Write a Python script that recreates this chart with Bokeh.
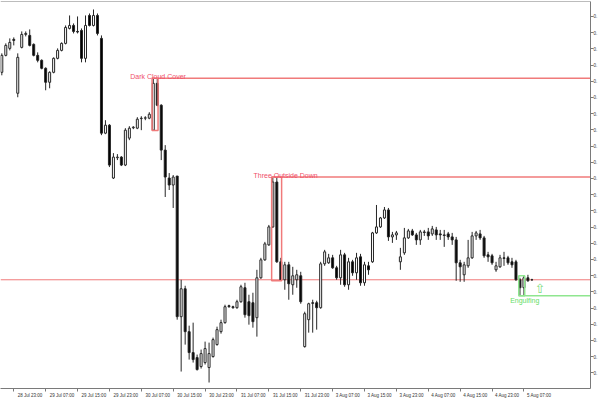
from bokeh.plotting import figure
from bokeh.models import Range1d, LinearAxis, FixedTicker, Label, ColumnDataSource, PrintfTickFormatter, Span
from bokeh.core.properties import value
from bokeh.embed import file_html
from bokeh.resources import INLINE

# ---- data (H1 candles, bar index 0 = 28 Jul 20:00) ----
opens = [0.73640, 0.73725, 0.73760, 0.73805, 0.73535, 0.73765, 0.73830, 0.73825, 0.73780, 0.73725,
         0.73700, 0.73660, 0.73590, 0.73640, 0.73710, 0.73750, 0.73785, 0.73860, 0.73875, 0.73845,
         0.73850, 0.73710, 0.73925, 0.73875, 0.73925, 0.73810, 0.73335, 0.73375, 0.73110, 0.73212,
         0.73215, 0.73175, 0.73310, 0.73362, 0.73360, 0.73408, 0.73410, 0.73410, 0.73350, 0.73585,
         0.73475, 0.73250, 0.73110, 0.73075, 0.73120, 0.72415, 0.72555, 0.72340, 0.72235, 0.72210,
         0.72165, 0.72185, 0.72160, 0.72215, 0.72275, 0.72340, 0.72385, 0.72470, 0.72465, 0.72460,
         0.72490, 0.72560, 0.72490, 0.72485, 0.72410, 0.72610, 0.72700, 0.72775, 0.72865, 0.73090,
         0.72690, 0.72600, 0.72675, 0.72575, 0.72600, 0.72620, 0.72265, 0.72400, 0.72485, 0.72485,
         0.72460, 0.72680, 0.72685, 0.72710, 0.72660, 0.72610, 0.72725, 0.72575, 0.72690, 0.72635,
         0.72715, 0.72585, 0.72670, 0.72690, 0.72835, 0.72865, 0.72910, 0.72950, 0.72815, 0.72825,
         0.72690, 0.72735, 0.72810, 0.72845, 0.72825, 0.72800, 0.72840, 0.72840, 0.72830, 0.72850,
         0.72830, 0.72825, 0.72830, 0.72815, 0.72800, 0.72685, 0.72625, 0.72670, 0.72710, 0.72820,
         0.72830, 0.72810, 0.72725, 0.72720, 0.72650, 0.72665, 0.72710, 0.72710, 0.72690, 0.72690,
         0.72600, 0.72560, 0.72610, 0.72600]
highs = [0.73735, 0.73785, 0.73810, 0.73815, 0.73735, 0.73845, 0.73845, 0.73855, 0.73785, 0.73740,
         0.73705, 0.73665, 0.73645, 0.73715, 0.73760, 0.73790, 0.73875, 0.73925, 0.73885, 0.73920,
         0.73860, 0.73925, 0.73935, 0.73955, 0.73935, 0.73825, 0.73400, 0.73380, 0.73235, 0.73230,
         0.73220, 0.73360, 0.73370, 0.73370, 0.73415, 0.73420, 0.73420, 0.73440, 0.73610, 0.73610,
         0.73480, 0.73275, 0.73135, 0.73125, 0.73120, 0.72600, 0.72570, 0.72370, 0.72385, 0.72225,
         0.72250, 0.72290, 0.72285, 0.72310, 0.72365, 0.72400, 0.72475, 0.72475, 0.72470, 0.72500,
         0.72575, 0.72585, 0.72525, 0.72535, 0.72650, 0.72710, 0.72790, 0.72875, 0.73115, 0.73115,
         0.72710, 0.72690, 0.72690, 0.72665, 0.72650, 0.72640, 0.72440, 0.72485, 0.72500, 0.72495,
         0.72690, 0.72750, 0.72730, 0.72725, 0.72670, 0.72750, 0.72735, 0.72710, 0.72700, 0.72735,
         0.72730, 0.72690, 0.72690, 0.72840, 0.72975, 0.72915, 0.72965, 0.72960, 0.72840, 0.72845,
         0.72760, 0.72860, 0.72855, 0.72855, 0.72835, 0.72850, 0.72850, 0.72860, 0.72870, 0.72865,
         0.72850, 0.72850, 0.72840, 0.72835, 0.72815, 0.72700, 0.72690, 0.72800, 0.72840, 0.72845,
         0.72850, 0.72820, 0.72740, 0.72730, 0.72690, 0.72725, 0.72740, 0.72720, 0.72710, 0.72700,
         0.72610, 0.72620, 0.72625, 0.72605]
lows = [0.73625, 0.73720, 0.73750, 0.73775, 0.73515, 0.73760, 0.73820, 0.73770, 0.73720, 0.73690,
        0.73655, 0.73550, 0.73560, 0.73635, 0.73705, 0.73745, 0.73780, 0.73855, 0.73835, 0.73835,
        0.73690, 0.73690, 0.73870, 0.73870, 0.73825, 0.73325, 0.73330, 0.73165, 0.73105, 0.73200,
        0.73170, 0.73170, 0.73300, 0.73355, 0.73355, 0.73350, 0.73400, 0.73405, 0.73348, 0.73470,
        0.73200, 0.73015, 0.73050, 0.72960, 0.72400, 0.72140, 0.72275, 0.72200, 0.72185, 0.72145,
        0.72155, 0.72175, 0.72085, 0.72210, 0.72270, 0.72330, 0.72380, 0.72460, 0.72455, 0.72455,
        0.72485, 0.72410, 0.72375, 0.72360, 0.72315, 0.72605, 0.72695, 0.72770, 0.72860, 0.72685,
        0.72595, 0.72550, 0.72500, 0.72525, 0.72560, 0.72480, 0.72260, 0.72335, 0.72335, 0.72350,
        0.72455, 0.72670, 0.72680, 0.72655, 0.72600, 0.72575, 0.72565, 0.72550, 0.72620, 0.72600,
        0.72570, 0.72570, 0.72625, 0.72685, 0.72830, 0.72860, 0.72905, 0.72795, 0.72785, 0.72800,
        0.72650, 0.72725, 0.72805, 0.72820, 0.72775, 0.72775, 0.72820, 0.72800, 0.72820, 0.72800,
        0.72800, 0.72765, 0.72800, 0.72775, 0.72595, 0.72590, 0.72590, 0.72660, 0.72705, 0.72800,
        0.72800, 0.72710, 0.72690, 0.72675, 0.72640, 0.72660, 0.72670, 0.72675, 0.72660, 0.72595,
        0.72520, 0.72520, 0.72590, 0.72595]
closes = [0.73725, 0.73775, 0.73790, 0.73800, 0.73715, 0.73830, 0.73835, 0.73775, 0.73725, 0.73700,
          0.73660, 0.73590, 0.73640, 0.73710, 0.73750, 0.73785, 0.73865, 0.73875, 0.73845, 0.73842,
          0.73710, 0.73875, 0.73875, 0.73925, 0.73835, 0.73335, 0.73375, 0.73175, 0.73215, 0.73215,
          0.73175, 0.73350, 0.73360, 0.73365, 0.73405, 0.73410, 0.73412, 0.73430, 0.73585, 0.73475,
          0.73250, 0.73115, 0.73075, 0.73115, 0.72415, 0.72555, 0.72340, 0.72235, 0.72200, 0.72150,
          0.72230, 0.72255, 0.72230, 0.72300, 0.72350, 0.72385, 0.72465, 0.72465, 0.72460, 0.72490,
          0.72565, 0.72425, 0.72420, 0.72390, 0.72610, 0.72700, 0.72780, 0.72865, 0.73090, 0.72690,
          0.72600, 0.72675, 0.72580, 0.72620, 0.72625, 0.72490, 0.72430, 0.72480, 0.72482, 0.72460,
          0.72680, 0.72740, 0.72710, 0.72660, 0.72610, 0.72725, 0.72575, 0.72690, 0.72635, 0.72710,
          0.72585, 0.72675, 0.72650, 0.72835, 0.72865, 0.72910, 0.72950, 0.72815, 0.72825, 0.72835,
          0.72715, 0.72810, 0.72845, 0.72825, 0.72800, 0.72840, 0.72837, 0.72820, 0.72855, 0.72825,
          0.72825, 0.72822, 0.72815, 0.72800, 0.72685, 0.72665, 0.72675, 0.72710, 0.72820, 0.72835,
          0.72810, 0.72720, 0.72715, 0.72685, 0.72670, 0.72710, 0.72707, 0.72685, 0.72675, 0.72600,
          0.72560, 0.72610, 0.72595, 0.72600]

# time axis: bar index of each label and its text
tick_bars = [3, 11, 19, 27, 35, 43, 51, 59, 67, 75, 83, 91, 99, 107, 115, 123, 131]
tick_labels = ["28 Jul 23:00", "29 Jul 07:00", "29 Jul 15:00", "29 Jul 23:00", "30 Jul 07:00",
               "30 Jul 15:00", "30 Jul 23:00", "31 Jul 07:00", "31 Jul 15:00", "31 Jul 23:00",
               "3 Aug 07:00", "3 Aug 15:00", "3 Aug 23:00", "4 Aug 07:00", "4 Aug 15:00",
               "4 Aug 23:00", "5 Aug 07:00"]

# detected candlestick patterns
pattern_names = ["Dark Cloud Cover", "Three Outside Down", "Engulfing"]
pattern_first = [38, 68, 130]
pattern_last = [39, 70, 131]
pattern_bullish = [False, False, True]
pattern_label_bar = [39.2, 71.2, 131.2]
signal_bar = 135          # bullish arrow after the engulfing pattern
signal_price = 0.72558

# ---- figure ----
n = len(opens)
X0, X1 = -0.33, 147.7
Y0, Y1 = 0.72055, 0.73995
GRAY = "#7a7a7a"
RED = "#f07a7a"
GREEN = "#8fe68f"
CANDLE = "#262626"

p = figure(width=600, height=400, output_backend="svg", toolbar_location=None,
           x_range=Range1d(X0, X1), y_range=Range1d(Y0, Y1),
           x_axis_location=None, y_axis_location="right",
           min_border_left=0, min_border_top=1, min_border_bottom=0, min_border_right=0)
p.grid.visible = False
p.outline_line_color = None
p.background_fill_color = "white"
p.border_fill_color = "white"

# right price axis (only the start "0." of each price fits before the window edge)
ya = p.yaxis[0]
ya.ticker = FixedTicker(ticks=[round(0.73920 - 0.000812 * k, 6) for k in range(23)])
ya.formatter = PrintfTickFormatter(format="0.")
ya.axis_line_color = GRAY
ya.major_tick_line_color = GRAY
ya.major_tick_in = 0
ya.major_tick_out = 3
ya.minor_tick_line_color = None
ya.minor_tick_in = 0
ya.minor_tick_out = 0
ya.major_label_text_font_size = "4.5px"
ya.major_label_text_font = "Liberation Sans"
ya.major_label_text_color = "#333333"
ya.major_label_standoff = 0

# top border
p.add_layout(Span(location=Y1, dimension="width", line_color=GRAY, line_width=1))

# bottom axis: tick marks
xa1 = LinearAxis(ticker=FixedTicker(ticks=tick_bars), axis_line_color=GRAY,
                 major_tick_line_color=GRAY, major_tick_in=0, major_tick_out=3,
                 minor_tick_line_color=None, minor_tick_in=0, minor_tick_out=0,
                 major_label_standoff=0,
                 major_label_overrides={b: "" for b in tick_bars},
                 major_label_text_font_size="0px")
p.add_layout(xa1, "below")

# bottom axis: labels written to the right of each tick (MetaTrader style)
lab_pos = [round(b + (1.5 + 0.5 * len(t) * 0.55 * 4.5) / 4.0, 1) for b, t in zip(tick_bars, tick_labels)]
xa2 = LinearAxis(ticker=FixedTicker(ticks=lab_pos), axis_line_color=None,
                 major_tick_line_color=None, minor_tick_line_color=None,
                 major_tick_in=0, major_tick_out=0, minor_tick_in=0, minor_tick_out=0,
                 major_label_standoff=1,
                 major_label_overrides={pos: t for pos, t in zip(lab_pos, tick_labels)},
                 major_label_text_font_size="4.5px", major_label_text_font="Liberation Sans",
                 major_label_text_color="#333333")
p.add_layout(xa2, "below")

# bid line
last = closes[-1]
p.segment(x0=[X0], y0=[last], x1=[X1], y1=[last], line_color=RED, line_width=1)

# candles
idx = list(range(n))
src = ColumnDataSource(dict(
    x=idx, o=opens, h=highs, l=lows, c=closes,
    top=[max(o, c) for o, c in zip(opens, closes)],
    bot=[min(o, c) for o, c in zip(opens, closes)],
    fill=["white" if c >= o else "black" for o, c in zip(opens, closes)],
))
p.segment(x0="x", y0="h", x1="x", y1="l", source=src, line_color=CANDLE, line_width=1)
p.vbar(x="x", width=0.5, top="top", bottom="bot", source=src,
       fill_color="fill", line_color=CANDLE, line_width=1)

# pattern rectangles, level lines and names
for name, a, b, bull, lb in zip(pattern_names, pattern_first, pattern_last, pattern_bullish, pattern_label_bar):
    hi = max(highs[a:b + 1])
    lo = min(lows[a:b + 1])
    col = GREEN if bull else RED
    left, right = a - 0.3, b + 0.2
    p.quad(left=[left], right=[right], top=[hi], bottom=[lo], fill_color=None,
           line_color=col, line_width=1.5)
    lvl = lo if bull else hi
    p.segment(x0=[left], y0=[lvl], x1=[X1], y1=[lvl], line_color=col, line_width=1.6)
    p.add_layout(Label(x=lb, y=lvl, text=name, text_align="center",
                       text_baseline="top" if bull else "alphabetic",
                       y_offset=-1 if bull else 1.5,
                       text_font="Liberation Sans", text_font_size="7px",
                       text_color="#66dd66" if bull else "#f0506a"))

# bullish signal arrow
p.text(x=[signal_bar], y=[signal_price], text=["\u21e7"], text_align="center",
       text_baseline="middle", text_font=value("DejaVu Sans"), text_font_size="13px",
       text_color="#7fdc7f")

# bid price box on the price scale
p.add_layout(Label(x=X1, y=last, text="0.", x_offset=1.5, text_align="left",
                   text_baseline="middle", text_font="Liberation Sans",
                   text_font_size="4.5px", text_color="white", padding=1,
                   background_fill_color="#e00000"))

open("out.html", "w").write(file_html(p, INLINE))
